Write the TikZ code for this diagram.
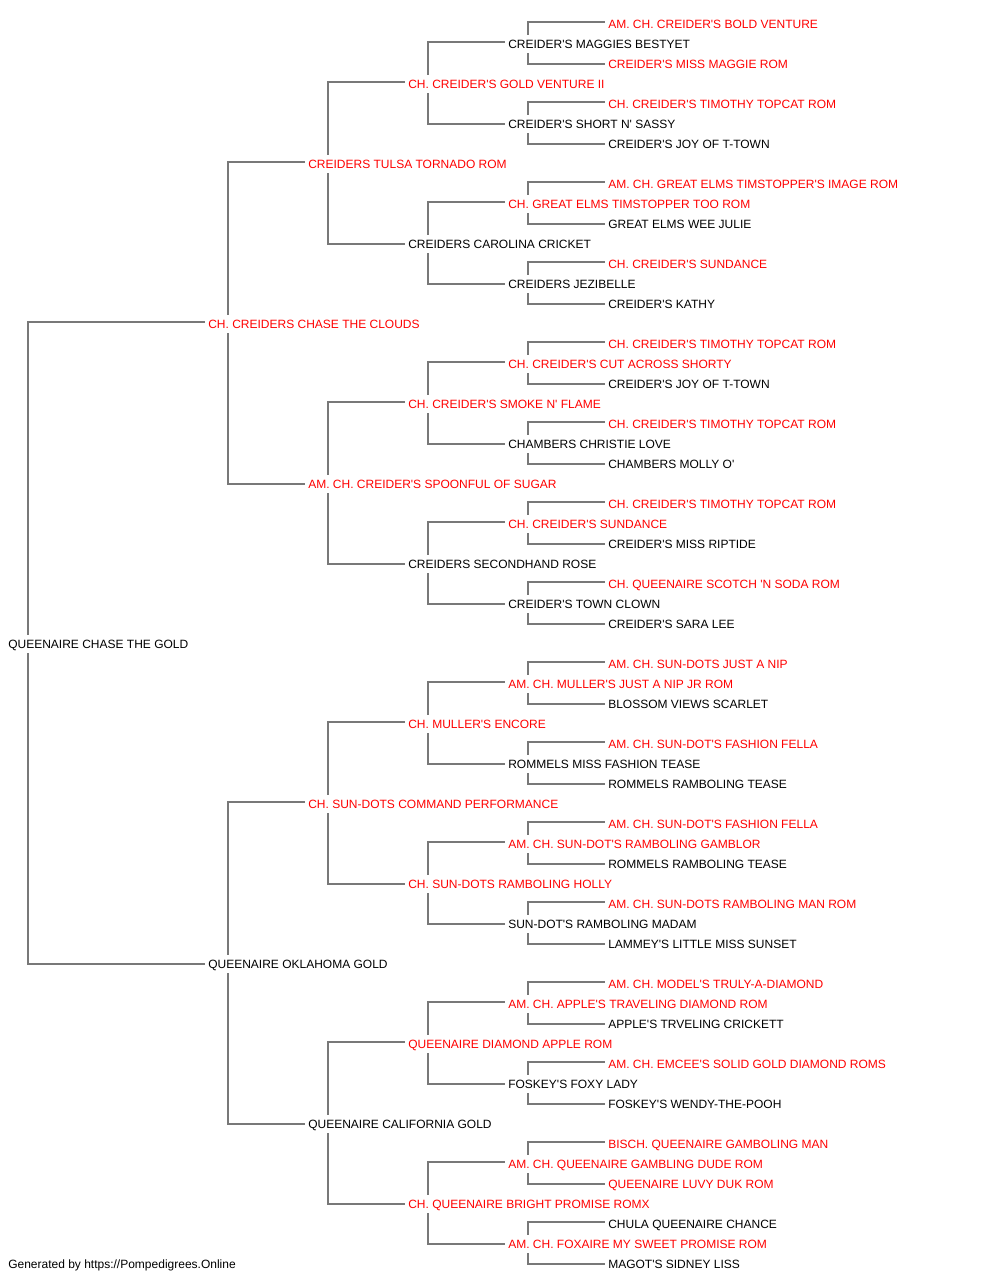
\documentclass[tikz,border=0pt]{standalone}
\usepackage{fontspec}
\setmainfont{Liberation Sans}
\newcommand\ap{\textquotesingle}
\definecolor{lnc}{RGB}{120,120,120}
\definecolor{rd}{RGB}{255,0,0}
\tikzset{
  pn/.style={anchor=west, inner xsep=0pt, inner ysep=3.5pt, text height=6.45pt, text depth=0pt,
    font=\fontsize{9}{10}\selectfont},
  conn/.style={draw=lnc, line width=1.1pt},
  rn/.style={pn, text=rd},
  bn/.style={pn, text=black}
}
\newcommand\pn[4]{\node[#3] (r#1) at (#2, {24.2+20*#1}) {#4};}
\newcommand\br[3]{%
  \draw[conn] ([xshift=15pt]r#1.north west) |- ([xshift=-2.25pt,yshift=1.63pt]r#2.west);
  \draw[conn] ([xshift=15pt]r#1.south west) |- ([xshift=-2.25pt,yshift=0.13pt]r#3.west);}
\begin{document}
\begin{tikzpicture}[x=0.75pt,y=-0.75pt]
\useasboundingbox (0,0) rectangle (1000,1280);
\fill[white] (0,0) rectangle (1000,1280);
\pn{0}{608}{rn}{AM. CH. CREIDER\ap S BOLD VENTURE}
\pn{1}{508}{bn}{CREIDER\ap S MAGGIES BESTYET}
\pn{2}{608}{rn}{CREIDER\ap S MISS MAGGIE ROM}
\pn{3}{408}{rn}{CH. CREIDER\ap S GOLD VENTURE II}
\pn{4}{608}{rn}{CH. CREIDER\ap S TIMOTHY TOPCAT ROM}
\pn{5}{508}{bn}{CREIDER\ap S SHORT N\ap{} SASSY}
\pn{6}{608}{bn}{CREIDER\ap S JOY OF T-TOWN}
\pn{7}{308}{rn}{CREIDERS TULSA TORNADO ROM}
\pn{8}{608}{rn}{AM. CH. GREAT ELMS TIMSTOPPER\ap S IMAGE ROM}
\pn{9}{508}{rn}{CH. GREAT ELMS TIMSTOPPER TOO ROM}
\pn{10}{608}{bn}{GREAT ELMS WEE JULIE}
\pn{11}{408}{bn}{CREIDERS CAROLINA CRICKET}
\pn{12}{608}{rn}{CH. CREIDER\ap S SUNDANCE}
\pn{13}{508}{bn}{CREIDERS JEZIBELLE}
\pn{14}{608}{bn}{CREIDER\ap S KATHY}
\pn{15}{208}{rn}{CH. CREIDERS CHASE THE CLOUDS}
\pn{16}{608}{rn}{CH. CREIDER\ap S TIMOTHY TOPCAT ROM}
\pn{17}{508}{rn}{CH. CREIDER\ap S CUT ACROSS SHORTY}
\pn{18}{608}{bn}{CREIDER\ap S JOY OF T-TOWN}
\pn{19}{408}{rn}{CH. CREIDER\ap S SMOKE N\ap{} FLAME}
\pn{20}{608}{rn}{CH. CREIDER\ap S TIMOTHY TOPCAT ROM}
\pn{21}{508}{bn}{CHAMBERS CHRISTIE LOVE}
\pn{22}{608}{bn}{CHAMBERS MOLLY O\ap}
\pn{23}{308}{rn}{AM. CH. CREIDER\ap S SPOONFUL OF SUGAR}
\pn{24}{608}{rn}{CH. CREIDER\ap S TIMOTHY TOPCAT ROM}
\pn{25}{508}{rn}{CH. CREIDER\ap S SUNDANCE}
\pn{26}{608}{bn}{CREIDER\ap S MISS RIPTIDE}
\pn{27}{408}{bn}{CREIDERS SECONDHAND ROSE}
\pn{28}{608}{rn}{CH. QUEENAIRE SCOTCH \ap N SODA ROM}
\pn{29}{508}{bn}{CREIDER\ap S TOWN CLOWN}
\pn{30}{608}{bn}{CREIDER\ap S SARA LEE}
\pn{31}{8}{bn}{QUEENAIRE CHASE THE GOLD}
\pn{32}{608}{rn}{AM. CH. SUN-DOTS JUST A NIP}
\pn{33}{508}{rn}{AM. CH. MULLER\ap S JUST A NIP JR ROM}
\pn{34}{608}{bn}{BLOSSOM VIEWS SCARLET}
\pn{35}{408}{rn}{CH. MULLER\ap S ENCORE}
\pn{36}{608}{rn}{AM. CH. SUN-DOT\ap S FASHION FELLA}
\pn{37}{508}{bn}{ROMMELS MISS FASHION TEASE}
\pn{38}{608}{bn}{ROMMELS RAMBOLING TEASE}
\pn{39}{308}{rn}{CH. SUN-DOTS COMMAND PERFORMANCE}
\pn{40}{608}{rn}{AM. CH. SUN-DOT\ap S FASHION FELLA}
\pn{41}{508}{rn}{AM. CH. SUN-DOT\ap S RAMBOLING GAMBLOR}
\pn{42}{608}{bn}{ROMMELS RAMBOLING TEASE}
\pn{43}{408}{rn}{CH. SUN-DOTS RAMBOLING HOLLY}
\pn{44}{608}{rn}{AM. CH. SUN-DOTS RAMBOLING MAN ROM}
\pn{45}{508}{bn}{SUN-DOT\ap S RAMBOLING MADAM}
\pn{46}{608}{bn}{LAMMEY\ap S LITTLE MISS SUNSET}
\pn{47}{208}{bn}{QUEENAIRE OKLAHOMA GOLD}
\pn{48}{608}{rn}{AM. CH. MODEL\ap S TRULY-A-DIAMOND}
\pn{49}{508}{rn}{AM. CH. APPLE\ap S TRAVELING DIAMOND ROM}
\pn{50}{608}{bn}{APPLE\ap S TRVELING CRICKETT}
\pn{51}{408}{rn}{QUEENAIRE DIAMOND APPLE ROM}
\pn{52}{608}{rn}{AM. CH. EMCEE\ap S SOLID GOLD DIAMOND ROMS}
\pn{53}{508}{bn}{FOSKEY\ap S FOXY LADY}
\pn{54}{608}{bn}{FOSKEY\ap S WENDY-THE-POOH}
\pn{55}{308}{bn}{QUEENAIRE CALIFORNIA GOLD}
\pn{56}{608}{rn}{BISCH. QUEENAIRE GAMBOLING MAN}
\pn{57}{508}{rn}{AM. CH. QUEENAIRE GAMBLING DUDE ROM}
\pn{58}{608}{rn}{QUEENAIRE LUVY DUK ROM}
\pn{59}{408}{rn}{CH. QUEENAIRE BRIGHT PROMISE ROMX}
\pn{60}{608}{bn}{CHULA QUEENAIRE CHANCE}
\pn{61}{508}{rn}{AM. CH. FOXAIRE MY SWEET PROMISE ROM}
\pn{62}{608}{bn}{MAGOT\ap S SIDNEY LISS}
\node[bn] (footer) at (8, 1264.2) {Generated by https://Pompedigrees.Online};
% brackets: gen4
\br{1}{0}{2}\br{5}{4}{6}\br{9}{8}{10}\br{13}{12}{14}
\br{17}{16}{18}\br{21}{20}{22}\br{25}{24}{26}\br{29}{28}{30}
\br{33}{32}{34}\br{37}{36}{38}\br{41}{40}{42}\br{45}{44}{46}
\br{49}{48}{50}\br{53}{52}{54}\br{57}{56}{58}\br{61}{60}{62}
% gen3
\br{3}{1}{5}\br{11}{9}{13}\br{19}{17}{21}\br{27}{25}{29}
\br{35}{33}{37}\br{43}{41}{45}\br{51}{49}{53}\br{59}{57}{61}
% gen2
\br{7}{3}{11}\br{23}{19}{27}\br{39}{35}{43}\br{55}{51}{59}
% gen1
\br{15}{7}{23}\br{47}{39}{55}
% gen0
\br{31}{15}{47}
\end{tikzpicture}
\end{document}
